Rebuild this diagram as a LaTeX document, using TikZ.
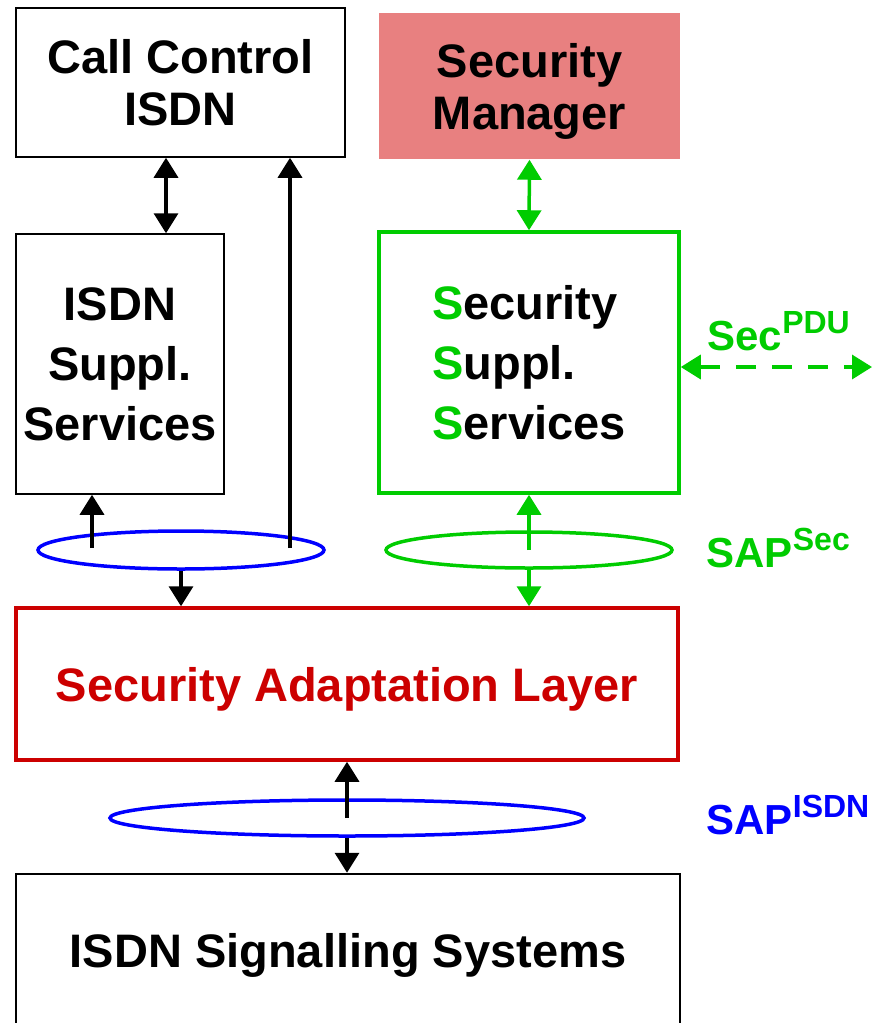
\documentclass[tikz,border=0pt]{standalone}
\usepackage{fontspec}
\setmainfont{Liberation Sans}
\usetikzlibrary{arrows.meta}
\usetikzlibrary{calc}
\usetikzlibrary{shapes.geometric}
\definecolor{sgreen}{HTML}{00CC00}
\definecolor{sred}{HTML}{CC0000}
\definecolor{sblue}{HTML}{0000FF}
\definecolor{smgr}{HTML}{E88080}
\newcommand{\upidx}[1]{\raisebox{17pt}{\fontsize{32}{32}\selectfont #1}}
\newcommand{\gS}{\textcolor{sgreen}{S}}

\begin{document}
\begin{tikzpicture}[x=1pt, y=-1pt,
  box/.style={draw, line width=1.5pt, align=center, inner sep=0pt, text depth=0pt,
    font=\bfseries\fontsize{47}{52}\selectfont},
  sap/.style={ellipse, draw, line width=3.5pt, inner sep=0pt},
  lbl/.style={anchor=base west, font=\bfseries\fontsize{42}{42}\selectfont},
  arr/.style={line width=3.5pt, -{Triangle[length=20pt,width=24pt]}},
  darr/.style={line width=3.5pt, {Triangle[length=20pt,width=24pt]}-{Triangle[length=20pt,width=24pt]}},
]
\useasboundingbox (0,0) rectangle (876,1023);
% blocks
\node[box, minimum width=329, minimum height=149] (ccisdn) at (180.5,82.5) {Call Control\\ISDN};
\node[box, draw=none, fill=smgr, minimum width=301, minimum height=146] (secmgr) at (529.5,86) {Security\\Manager};
\node[box, minimum width=208, minimum height=260, font=\bfseries\fontsize{47}{60}\selectfont] (isdnss) at (120,364) {ISDN\\Suppl.\\Services};
\node[box, draw=sgreen, line width=3.5pt, minimum width=300, minimum height=261, align=left,
  font=\bfseries\fontsize{47}{60}\selectfont] (secss) at (529,362.5) {\gS ecurity\\\gS uppl.\\\gS ervices};
\node[box, draw=sred, text=sred, line width=3.5pt, minimum width=662, minimum height=152] (sal) at (347,684) {Security Adaptation Layer};
\node[box, line width=2.5pt, minimum width=664, minimum height=152] (isdnsig) at (348,950) {ISDN Signalling Systems};
% access points
\node[sap, draw=sblue, minimum width=286, minimum height=38] (sapl) at (181,550) {};
\node[sap, draw=sgreen, minimum width=286, minimum height=36] (sapsec) at (529,550) {};
\node[sap, draw=sblue, minimum width=474, minimum height=36] (sapisdn) at (347,818) {};
\node[lbl, text=sgreen] (lblpdu) at (704,350) {Sec\upidx{PDU}};
\node[lbl, text=sgreen] (lblsec) at (703,567) {SAP\upidx{Sec}};
\node[lbl, text=sblue] (lblisdn) at (703,834) {SAP\upidx{ISDN}};
% connectors
\coordinate (cclink) at (166,0);
\coordinate (sslink) at (92,548);
\coordinate (uplink) at (290,548);
\coordinate (pduend) at (872,367);
\draw[darr] (ccisdn.south -| cclink) -- (isdnss.north -| cclink);
\draw[arr] (sslink) -- (sslink |- isdnss.south);
\draw[arr] (uplink) -- (uplink |- ccisdn.south);
\draw[arr] (sapl.south) -- (sapl.south |- sal.north);
\draw[darr, sgreen] (secmgr.south) -- (secss.north);
\draw[arr, sgreen] (sapsec.center) -- (secss.south);
\draw[arr, sgreen] (sapsec.south) -- (sapsec.south |- sal.north);
\draw[darr, sgreen, dash pattern=on 20pt off 16pt] (secss.east |- pduend) -- (pduend);
\draw[arr] (sapisdn.center) -- (sapisdn.center |- sal.south);
\draw[arr] (sapisdn.south) -- (sapisdn.south |- isdnsig.north);
\end{tikzpicture}
\end{document}
